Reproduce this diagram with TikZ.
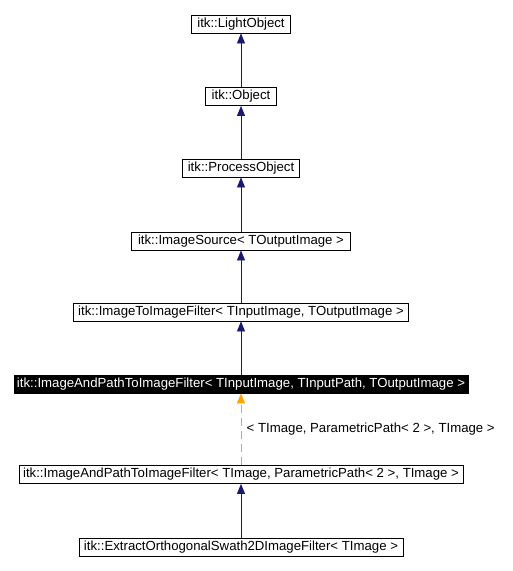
\documentclass[tikz,border=0pt]{standalone}
\usepackage{fontspec}
\setmainfont{Liberation Sans}
\usetikzlibrary{arrows.meta}
\definecolor{edgeblue}{HTML}{191970}
\definecolor{edgeorange}{HTML}{FFA500}
\tikzset{
  cls/.style={draw=black, line width=0.8pt, fill=white, inner xsep=2pt, inner ysep=0pt, minimum height=18pt, font=\fontsize{13.2}{14}\selectfont, anchor=center},
  clsdark/.style={cls, fill=black, text=white},
  inh/.style={draw=edgeblue, line width=0.8pt, -{Triangle[length=10pt,width=8pt]}},
  tmpl/.style={draw=edgeorange, line width=0.8pt, dash pattern=on 8pt off 5pt, -{Triangle[length=10pt,width=8pt]}},
  lbl/.style={font=\fontsize{13.2}{14}\selectfont, anchor=west}
}
\begin{document}
\begin{tikzpicture}[x=1pt,y=-1pt]
\useasboundingbox (0,0) rectangle (513,571);
\node[cls, minimum width=99pt] (lo) at (241,24) {itk::LightObject};
\node[cls, minimum width=71pt] (ob) at (241,96.5) {itk::Object};
\node[cls, minimum width=117pt] (po) at (241,168) {itk::ProcessObject};
\node[cls, minimum width=219pt] (is) at (241,241) {itk::ImageSource< TOutputImage >};
\node[cls, minimum width=335pt] (iti) at (241,312) {itk::ImageToImageFilter< TInputImage, TOutputImage >};
\node[clsdark, minimum width=454pt] (ap) at (241,384) {itk::ImageAndPathToImageFilter< TInputImage, TInputPath, TOutputImage >};
\node[cls, minimum width=444pt] (apt) at (241,474.5) {itk::ImageAndPathToImageFilter< TImage, ParametricPath< 2 >, TImage >};
\node[cls, minimum width=324pt] (ex) at (241,547) {itk::ExtractOrthogonalSwath2DImageFilter< TImage >};
\draw[inh] (ob) -- (lo);
\draw[inh] (po) -- (ob);
\draw[inh] (is) -- (po);
\draw[inh] (iti) -- (is);
\draw[inh] (ap) -- (iti);
\draw[tmpl] (apt) -- node[lbl, pos=0.5, xshift=2pt] {< TImage, ParametricPath< 2 >, TImage >} (ap);
\draw[inh] (ex) -- (apt);
\end{tikzpicture}
\end{document}
